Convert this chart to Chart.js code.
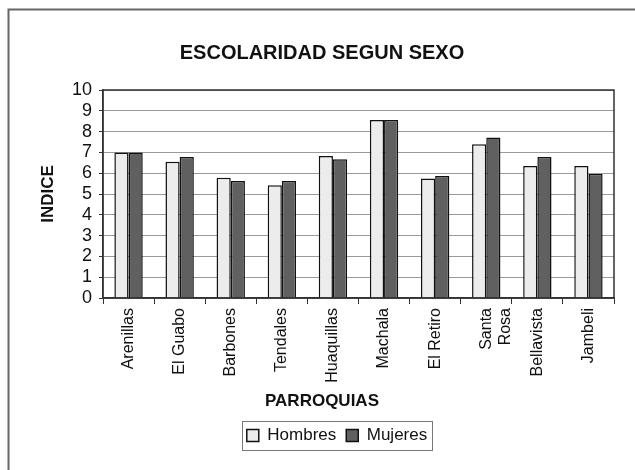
<!DOCTYPE html>
<html>
<head>
<meta charset="utf-8">
<script src="https://cdn.jsdelivr.net/npm/chart.js@4.4.0/dist/chart.umd.min.js"></script>
<style>
  html, body { margin: 0; padding: 0; background: #fff; }
  #wrap { position: relative; width: 635px; height: 470px; }
</style>
</head>
<body>
<div id="wrap"><canvas id="chart" width="635" height="470"></canvas></div>
<script>
// data
const parroquias = ['Arenillas', 'El Guabo', 'Barbones', 'Tendales', 'Huaquillas',
  'Machala', 'El Retiro', ['Santa', 'Rosa'], 'Bellavista', 'Jambeli'];
const hombres = [7.0, 6.55, 5.78, 5.42, 6.83, 8.56, 5.75, 7.39, 6.35, 6.35];
const mujeres = [7.0, 6.78, 5.62, 5.62, 6.67, 8.56, 5.87, 7.72, 6.78, 5.96];

const FONT = "'Liberation Sans', Arial, sans-serif";
Chart.defaults.font.family = FONT;
Chart.defaults.color = '#111';

// page frame (top + left edge), plot frame, legend box
const framePlugin = {
  id: 'frames',
  afterLayout(chart) {
    // legend in the original sits a bit right of centre
    chart.legend.left += 15;
    chart.legend.right += 15;
  },
  beforeDraw(chart) {
    const c = chart.ctx;
    c.save();
    c.fillStyle = '#fff';
    c.fillRect(0, 0, chart.width, chart.height);
    c.strokeStyle = '#666';
    c.lineWidth = 2;
    c.beginPath();
    c.moveTo(8.5, chart.height);
    c.lineTo(8.5, 9.5);
    c.lineTo(chart.width, 9.5);
    c.stroke();
    c.restore();
  },
  afterDraw(chart) {
    const c = chart.ctx;
    const a = chart.chartArea;
    c.save();
    c.strokeStyle = '#333';
    c.lineWidth = 1.5;
    c.strokeRect(a.left, a.top, a.right - a.left, a.bottom - a.top);
    const boxes = chart.legend.legendHitBoxes;
    if (boxes && boxes.length) {
      const l = Math.min(...boxes.map(b => b.left)) - 5;
      const r = Math.max(...boxes.map(b => b.left + b.width)) + 5;
      const t = Math.min(...boxes.map(b => b.top)) - 6;
      const btm = Math.max(...boxes.map(b => b.top + b.height)) + 6;
      c.strokeStyle = '#777';
      c.lineWidth = 1;
      c.strokeRect(Math.round(l) + 0.5, Math.round(t) + 0.5, Math.round(r - l), Math.round(btm - t));
    }
    c.restore();
  }
};

new Chart(document.getElementById('chart'), {
  type: 'bar',
  data: {
    labels: parroquias,
    datasets: [
      {
        label: 'Hombres',
        data: hombres,
        backgroundColor: '#ececec',
        borderColor: '#111',
        borderWidth: 1.5
      },
      {
        label: 'Mujeres',
        data: mujeres,
        backgroundColor: '#606060',
        borderColor: '#111',
        borderWidth: 1.5
      }
    ]
  },
  options: {
    responsive: false,
    animation: false,
    categoryPercentage: 0.555,
    barPercentage: 1.0,
    layout: { padding: { left: 30, right: 21, top: 0, bottom: 16 } },
    plugins: {
      title: {
        display: true,
        text: 'ESCOLARIDAD SEGUN SEXO',
        color: '#111',
        font: { size: 20, weight: 'bold' },
        padding: { top: 41, bottom: 25 }
      },
      subtitle: {
        display: true,
        position: 'bottom',
        text: 'PARROQUIAS',
        color: '#111',
        font: { size: 17, weight: 'bold' },
        padding: { top: 4, bottom: 5 }
      },
      legend: {
        position: 'bottom',
        weight: 1600,
        labels: {
          color: '#111',
          font: { size: 17 },
          boxWidth: 12,
          boxHeight: 12,
          padding: 10
        }
      },
      tooltip: { enabled: false }
    },
    scales: {
      y: {
        min: 0,
        max: 10,
        afterFit: s => { s.width = 73; },
        ticks: { color: '#111', font: { size: 18 }, padding: 7, stepSize: 1, autoSkip: false },
        grid: { color: '#9a9a9a', tickLength: 4, tickColor: '#333' },
        border: { color: '#333', width: 1.5 },
        title: {
          display: true,
          text: 'INDICE',
          color: '#111',
          font: { size: 17, weight: 'bold' },
          padding: { top: 8, bottom: 0 }
        }
      },
      x: {
        afterFit: s => { s.height = 89.6; },
        ticks: {
          color: '#111',
          font: { size: 16 },
          maxRotation: 90,
          minRotation: 90,
          autoSkip: false,
          padding: 4
        },
        grid: { drawOnChartArea: false, tickLength: 6, color: '#333' },
        border: { color: '#333', width: 1.5 }
      }
    }
  },
  plugins: [framePlugin]
});
</script>
</body>
</html>
